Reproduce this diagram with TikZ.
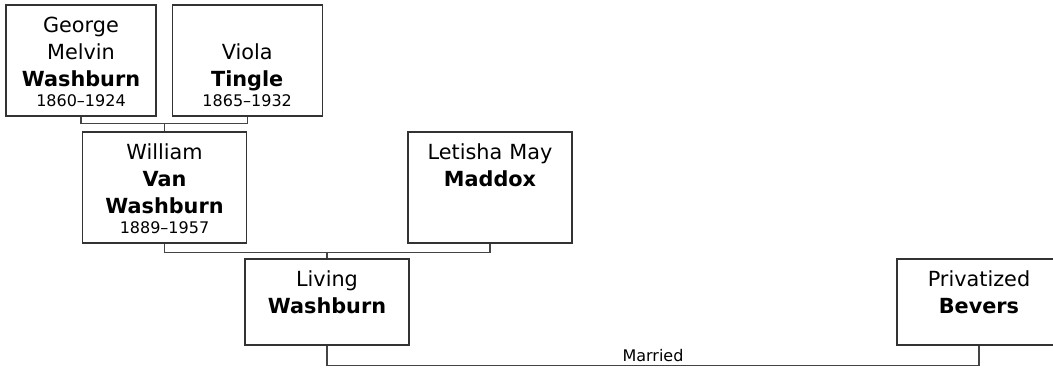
\documentclass[tikz,border=0pt]{standalone}
\usepackage{fontspec}
\setmainfont{DejaVu Sans}
\usepackage{xcolor}
\usetikzlibrary{positioning}
\definecolor{boxline}{HTML}{333333}
\definecolor{linkline}{HTML}{444444}
\newcommand{\lifespan}[1]{{\fontsize{12}{15}\selectfont #1\par}}
\newcommand{\topgap}[1]{\rule{0pt}{#1}}

\begin{document}
\begin{tikzpicture}[
    x=0.75pt, y=-0.75pt,
    node distance=0pt,
    pbox/.style={rectangle,draw=boxline,line width=0.9pt,
      minimum width=123pt,minimum height=83.25pt,inner sep=0pt},
    narrow/.style={minimum width=112.5pt},
    short/.style={minimum height=64.5pt},
    ptext/.style={inner sep=0pt,text width=110pt,align=center,
      font=\fontsize{15.6}{20}\selectfont},
    link/.style={draw=linkline,line width=0.9pt},
    note/.style={inner sep=0pt,font=\fontsize{12}{13}\selectfont},
  ]
  \useasboundingbox (0,0) rectangle (1053,368);
  \clip (0,0) rectangle (1053,368);
  \node[pbox,narrow] (george) at (81,60.5) {};
  \node[pbox,narrow,right=11.25pt of george] (viola) {};
  \node[pbox] (william) at (164.5,187.5) {};
  \node[pbox] (letisha) at (490,187.5) {};
  \node[pbox,short] (living) at (327,302) {};
  \node[pbox,short] (bevers) at (979,302) {};
  \node[ptext,below=of george.north] (george-t) {\topgap{21pt}George\\Melvin\\\textbf{Washburn}\\\lifespan{1860--1924}};
  \node[ptext,below=of viola.north] (viola-t) {\topgap{41pt}Viola\\\textbf{Tingle}\\\lifespan{1865--1932}};
  \node[ptext,below=of william.north] (william-t) {\topgap{21pt}William\\\textbf{Van}\\\textbf{Washburn}\\\lifespan{1889--1957}};
  \node[ptext,below=of letisha.north] (letisha-t) {\topgap{21pt}Letisha May\\\textbf{Maddox}};
  \node[ptext,below=of living.north] (living-t) {\topgap{21pt}Living\\\textbf{Washburn}};
  \node[ptext,below=of bevers.north] (bevers-t) {\topgap{21pt}Privatized\\\textbf{Bevers}};
  \draw[link] (george.south) -- ++(0,7) coordinate (gv) -| (viola.south);
  \draw[link] (gv -| william.north) -- (william.north);
  \draw[link] (william.south) -- ++(0,8.5) coordinate (wl) -| (letisha.south);
  \draw[link] (wl -| living.north) -- (living.north);
  \draw[link] (living.south) -- ++(0,20) -| node[note,pos=0.25,above=2.25pt] (married) {Married} (bevers.south);
\end{tikzpicture}
\end{document}
